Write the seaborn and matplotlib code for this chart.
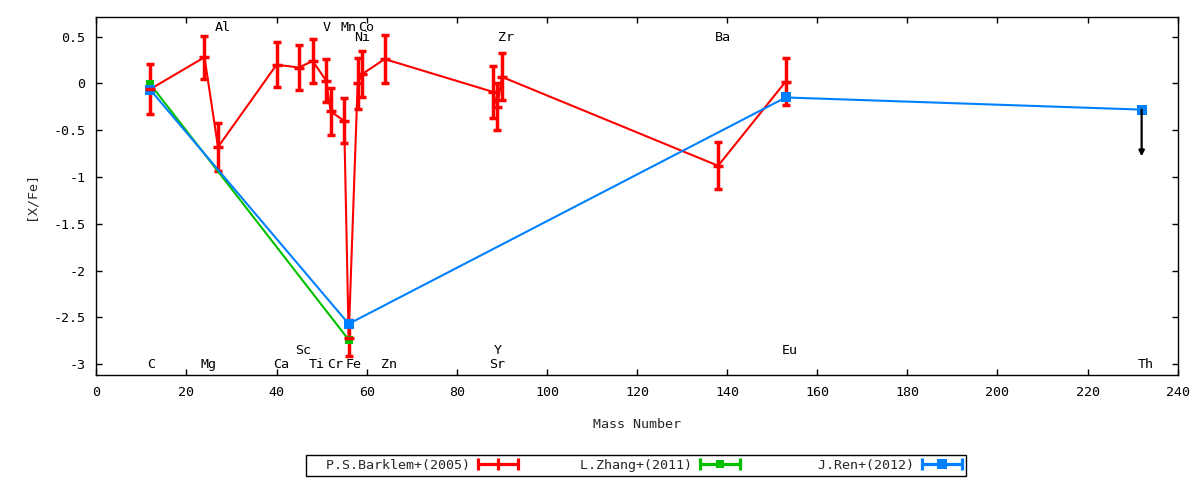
import numpy as np
import pandas as pd
import seaborn as sns
import matplotlib.pyplot as plt
from matplotlib.lines import Line2D
from matplotlib.legend_handler import HandlerLine2D, HandlerTuple
from matplotlib.ticker import FuncFormatter

# P.S.Barklem+(2005): mass number, [X/Fe], error
red_mass = [12, 24, 27, 40, 45, 48, 51, 52, 55, 56, 58, 59, 64, 88, 89, 90, 138, 153]
red_xfe = [-0.06, 0.28, -0.68, 0.20, 0.17, 0.24, 0.03, -0.30, -0.40, -2.72,
           0.00, 0.10, 0.26, -0.09, -0.25, 0.07, -0.88, 0.02]
red_err = [0.27, 0.23, 0.26, 0.24, 0.24, 0.24, 0.23, 0.25, 0.24, 0.19,
           0.27, 0.25, 0.26, 0.28, 0.25, 0.25, 0.25, 0.25]

# L.Zhang+(2011)
green_mass = [12, 56]
green_xfe = [-0.01, -2.74]

# J.Ren+(2012), last point (Th) is an upper limit
blue_mass = [12, 56, 153, 232]
blue_xfe = [-0.07, -2.57, -0.15, -0.28]

# element names written on the plot
elem_names = ["C", "Mg", "Al", "Ca", "Sc", "Ti", "V", "Cr", "Mn", "Fe", "Ni", "Co",
              "Zn", "Sr", "Y", "Zr", "Ba", "Eu", "Th"]
elem_mass = [12, 24, 27, 40, 45, 48, 51, 52, 55, 56, 58, 59, 64, 88, 89, 90, 138, 153, 232]
elem_ypos = [-3.0, -3.0, 0.6, -3.0, -2.85, -3.0, 0.6, -3.0, 0.6, -3.0, 0.49, 0.6,
             -3.0, -3.0, -2.85, 0.49, 0.49, -2.85, -3.0]

legend_labels = ["P.S.Barklem+(2005)", "L.Zhang+(2011)", "J.Ren+(2012)"]

RED = "#ff0000"
GREEN = "#00c000"
BLUE = "#0080ff"

sns.set_theme(style="ticks")
plt.rcParams["font.family"] = ["DejaVu Sans Mono", "DejaVu Sans"]
plt.rcParams["axes.unicode_minus"] = False
fs = 9.6

df_red = pd.DataFrame({"mass": red_mass, "xfe": red_xfe, "err": red_err})
df_green = pd.DataFrame({"mass": green_mass, "xfe": green_xfe})
df_blue = pd.DataFrame({"mass": blue_mass, "xfe": blue_xfe})

fig = plt.figure(figsize=(12, 4.8), dpi=100)
ax = fig.add_axes([0.0803, 0.2181, 0.9011, 0.7459])

# red: line + error bars
sns.lineplot(data=df_red, x="mass", y="xfe", color=RED, lw=1.5, ax=ax,
             estimator=None, sort=False, legend=False)
ax.errorbar(df_red["mass"], df_red["xfe"], yerr=df_red["err"], fmt="_", ms=7,
            mew=2.5, color=RED, ecolor=RED, elinewidth=2.5, capsize=3, capthick=2.5)

# green
sns.lineplot(data=df_green, x="mass", y="xfe", color=GREEN, lw=1.5, ax=ax,
             estimator=None, sort=False, legend=False, marker="s", markersize=6,
             markeredgewidth=0, markeredgecolor=GREEN)

# blue
sns.lineplot(data=df_blue, x="mass", y="xfe", color=BLUE, lw=1.5, ax=ax,
             estimator=None, sort=False, legend=False, marker="s", markersize=7.5,
             markeredgewidth=0, markeredgecolor=BLUE)

# upper limit arrow for Th
ax.annotate("", xy=(blue_mass[-1], blue_xfe[-1] - 0.5), xytext=(blue_mass[-1], blue_xfe[-1]),
            arrowprops=dict(arrowstyle="-|>", color="black", lw=1.6,
                            mutation_scale=8, shrinkA=0, shrinkB=0))

for name, m, yv in zip(elem_names, elem_mass, elem_ypos):
    ax.text(m - 0.8, yv, name, ha="left", va="center", fontsize=fs, color="black")

ax.set_xlim(0, 240)
ax.set_ylim(-3.12, 0.707)
ax.set_xticks(np.arange(0, 241, 20))
ax.set_yticks(np.arange(-3, 0.51, 0.5))
ax.yaxis.set_major_formatter(FuncFormatter(lambda v, p: "%g" % round(v, 2)))
ax.tick_params(direction="in", top=True, right=True, length=4, width=1,
               labelsize=fs, colors="black")
ax.tick_params(axis="x", pad=8)
ax.tick_params(axis="y", pad=8)
for sp in ax.spines.values():
    sp.set_visible(True)
    sp.set_color("black")
    sp.set_linewidth(1)

ax.set_xlabel("Mass Number", fontsize=fs)
ax.set_ylabel("[X/Fe]", fontsize=fs)
ax.xaxis.set_label_coords(0.5, -0.118)
ax.yaxis.set_label_coords(-0.0604, 0.5)
ax.yaxis.label.set_va("center")

# gnuplot-style legend samples: horizontal bar with caps, marker in the middle
cap_red = Line2D([], [], color=RED, lw=2.3, marker="|", ms=8, mew=2.3)
cap_green = Line2D([], [], color=GREEN, lw=2.3, marker="|", ms=8, mew=2.3)
cap_blue = Line2D([], [], color=BLUE, lw=2.3, marker="|", ms=8, mew=2.3)
mk_green = Line2D([], [], color=GREEN, ls="none", marker="s", ms=6, mew=0)
mk_blue = Line2D([], [], color=BLUE, ls="none", marker="s", ms=7, mew=0)
hmap = {
    cap_red: HandlerLine2D(numpoints=3, marker_pad=0),
    cap_green: HandlerLine2D(numpoints=2, marker_pad=0),
    cap_blue: HandlerLine2D(numpoints=2, marker_pad=0),
    mk_green: HandlerLine2D(numpoints=1),
    mk_blue: HandlerLine2D(numpoints=1),
    tuple: HandlerTuple(ndivide=1, pad=0),
}
width = max(len(s) for s in legend_labels) + 2
labels = [s.rjust(width) for s in legend_labels]
leg = fig.legend([cap_red, (cap_green, mk_green), (cap_blue, mk_blue)], labels,
                 handler_map=hmap, ncol=3, markerfirst=False, loc="center",
                 bbox_to_anchor=(0.53, 0.030), bbox_transform=fig.transFigure,
                 fontsize=fs, handlelength=3.0, handletextpad=0.6,
                 columnspacing=1.05, borderpad=0.3, fancybox=False,
                 frameon=True, edgecolor="black", framealpha=1)
leg.get_frame().set_linewidth(1)

fig.savefig("out.png", dpi=100)
